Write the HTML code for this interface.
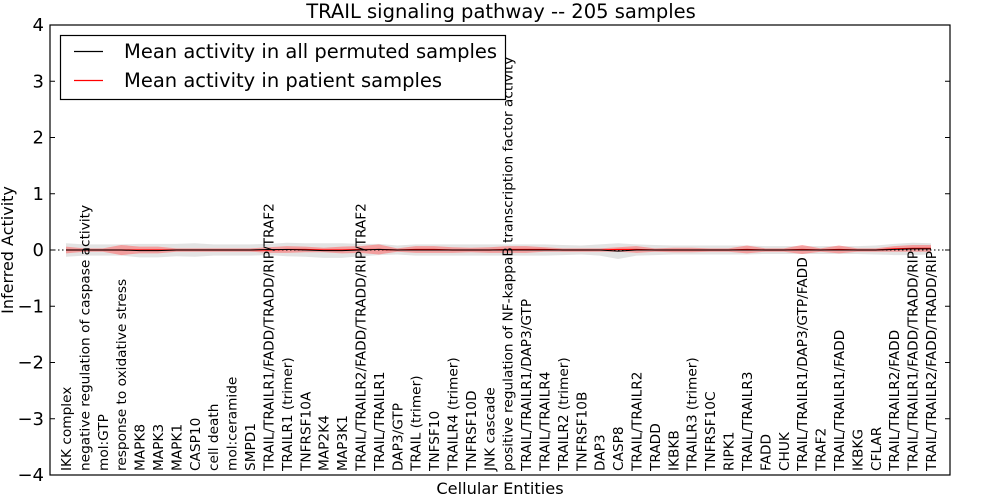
<!DOCTYPE html>
<html><head><meta charset="utf-8"><style>
body{margin:0;background:#fff;}
svg{display:block;font-family:"DejaVu Sans","Liberation Sans",sans-serif;}
</style></head><body>
<svg id="chart" width="1000" height="500">
<rect width="1000" height="500" fill="#fff"/>
<text x="501" y="18" font-size="19.5" text-anchor="middle">TRAIL signaling pathway -- 205 samples</text>
<text x="13" y="250" font-size="16" text-anchor="middle" transform="rotate(-90 13 250)">Inferred Activity</text>
<text x="500" y="494" font-size="16.2" text-anchor="middle">Cellular Entities</text>
<g id="bands"></g><g id="lines"></g><g id="axes"></g><g id="labels"></g>
<rect x="50" y="25" width="900" height="450" fill="none" stroke="#000" stroke-width="1.2"/>
<g>
<rect x="60.5" y="35.5" width="445" height="64" fill="#fff" stroke="#000" stroke-width="1.2"/>
<line x1="74" y1="51.5" x2="103" y2="51.5" stroke="#000" stroke-width="1.2"/>
<text x="124" y="58" font-size="19.5">Mean activity in all permuted samples</text>
<line x1="74" y1="80.5" x2="103" y2="80.5" stroke="#f00" stroke-width="1.2"/>
<text x="124" y="87" font-size="19.5">Mean activity in patient samples</text>
</g>
</svg>
<script>
const categories=["IKK complex","negative regulation of caspase activity","mol:GTP","response to oxidative stress","MAPK8","MAPK3","MAPK1","CASP10","cell death","mol:ceramide","SMPD1","TRAIL/TRAILR1/FADD/TRADD/RIP/TRAF2","TRAILR1 (trimer)","TNFRSF10A","MAP2K4","MAP3K1","TRAIL/TRAILR2/FADD/TRADD/RIP/TRAF2","TRAIL/TRAILR1","DAP3/GTP","TRAIL (trimer)","TNFSF10","TRAILR4 (trimer)","TNFRSF10D","JNK cascade","positive regulation of NF-kappaB transcription factor activity","TRAIL/TRAILR1/DAP3/GTP","TRAIL/TRAILR4","TRAILR2 (trimer)","TNFRSF10B","DAP3","CASP8","TRAIL/TRAILR2","TRADD","IKBKB","TRAILR3 (trimer)","TNFRSF10C","RIPK1","TRAIL/TRAILR3","FADD","CHUK","TRAIL/TRAILR1/DAP3/GTP/FADD","TRAF2","TRAIL/TRAILR1/FADD","IKBKG","CFLAR","TRAIL/TRAILR2/FADD","TRAIL/TRAILR1/FADD/TRADD/RIP","TRAIL/TRAILR2/FADD/TRADD/RIP"];
const permMean=[0,0,0,0,-0.01,-0.01,0,0,0,0,0,0.01,0.01,0,-0.01,-0.01,0,0.01,0,0,0,0,0,0,0,0,0,0,0,0,-0.02,0,0,0,0,0,0,0,0,0,0,0,0,0,0,0.01,0.02,0.02];
const permSd=[0.12,0.1,0.1,0.1,0.12,0.12,0.11,0.12,0.1,0.1,0.1,0.1,0.12,0.12,0.13,0.13,0.11,0.1,0.08,0.1,0.1,0.1,0.1,0.1,0.1,0.1,0.1,0.09,0.08,0.1,0.14,0.1,0.09,0.08,0.08,0.08,0.08,0.08,0.07,0.07,0.07,0.07,0.07,0.07,0.08,0.1,0.11,0.1];
const patMean=[0,0,0,0,0,0,0,0,0,0,0,0,0.01,0.01,0,0,0.01,0.01,0,0.01,0.01,0,0,0,0.01,0.01,0.01,0,0,0,0.01,0.01,0,0,0,0,0,0.01,0,0,0.01,0,0.01,0,0,0.02,0.03,0.03];
const patSd=[0.06,0.03,0.03,0.09,0.06,0.06,0.03,0.03,0.03,0.03,0.03,0.05,0.06,0.05,0.04,0.06,0.06,0.09,0.03,0.06,0.06,0.05,0.04,0.05,0.06,0.06,0.04,0.03,0.03,0.03,0.04,0.06,0.03,0.04,0.04,0.03,0.03,0.07,0.03,0.03,0.08,0.03,0.07,0.03,0.03,0.05,0.06,0.06];
const yTicks=[4,3,2,1,0,-1,-2,-3,-4];
const yTickLabels=["4","3","2","1","0","\u22121","\u22122","\u22123","\u22124"];
const NS="http://www.w3.org/2000/svg";
function X(i){return 66+i*(931-66)/(categories.length-1);}
function Y(v){return 250-v*56.25;}
function mk(t,a,p){const e=document.createElementNS(NS,t);for(const k in a)e.setAttribute(k,a[k]);p.appendChild(e);return e;}
const bands=document.getElementById('bands'),lines=document.getElementById('lines'),axes=document.getElementById('axes'),labels=document.getElementById('labels');
function band(m,s){let up=m.map((v,i)=>X(i)+','+Y(v+s[i])),dn=m.map((v,i)=>X(i)+','+Y(v-s[i])).reverse();return up.concat(dn).join(' ');}
const g1=mk('polygon',{points:band(permMean,permSd),fill:'#dcdcdc','fill-opacity':'0.8'},bands);


const r1=mk('polygon',{points:band(patMean,patSd),fill:'#f66','fill-opacity':'0.55'},bands);


const z=mk('line',{x1:50,x2:950,y1:Y(0),y2:Y(0),stroke:'#000','stroke-dasharray':'1.5,2.5','stroke-width':1},lines);


const pr=mk('polyline',{points:patMean.map((v,i)=>X(i)+','+Y(v)).join(' '),fill:'none',stroke:'#f00','stroke-width':1.2},lines);


const pm=mk('polyline',{points:permMean.map((v,i)=>X(i)+','+Y(v)).join(' '),fill:'none',stroke:'#000','stroke-width':1},lines);


yTicks.forEach((v,i)=>{
 mk('line',{x1:50,x2:55,y1:Y(v),y2:Y(v),stroke:'#000'},axes);
 mk('line',{x1:945,x2:950,y1:Y(v),y2:Y(v),stroke:'#000'},axes);
 const t=mk('text',{x:44,y:Y(v)+6,'font-size':18,'text-anchor':'end'},axes);
 t.textContent=yTickLabels[i];
 
 
});
categories.forEach((c,i)=>{
 const x=X(i);
 const t=mk('text',{x:0,y:0,'font-size':13.7,transform:`translate(${x+5},471) rotate(-90)`},labels);
 t.textContent=c;
 
 
});
</script>
</body></html>
